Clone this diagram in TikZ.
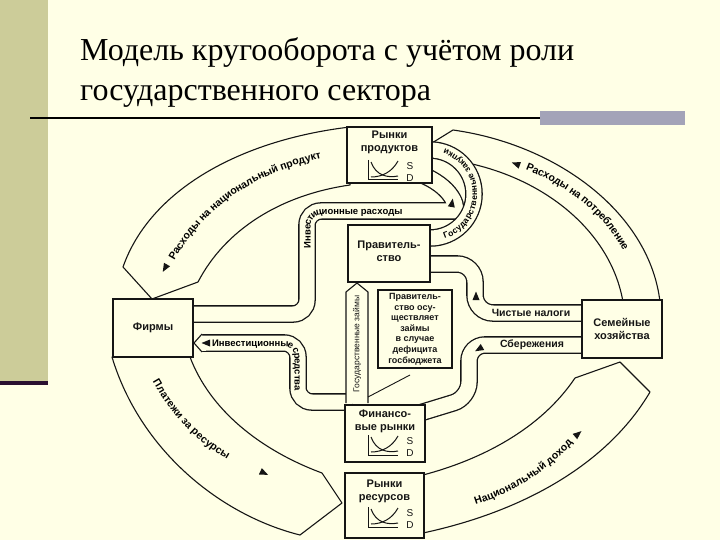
\documentclass[tikz,border=0pt]{standalone}
\usepackage{fontspec}
\setmainfont{Liberation Serif}
\newfontfamily\dfont{Liberation Sans}
\usetikzlibrary{decorations.text}
\definecolor{bg}{HTML}{FFFFE6}
\definecolor{olive}{HTML}{CCCC99}
\definecolor{barg}{HTML}{A3A3B8}
\definecolor{ink}{HTML}{151515}
\definecolor{darkline}{HTML}{2A1030}
\begin{document}
\begin{tikzpicture}[x=1pt,y=1pt,
  band/.style={fill=bg, draw=ink, line width=1.1pt, line join=round},
  tube/.style={draw=bg, line width=15pt, preaction={draw=ink, line width=17.6pt}},
  box/.style={draw=ink, fill=bg, line width=1.4pt, inner sep=0pt},
  lbl/.style={font=\dfont\bfseries\fontsize{11}{13}\selectfont, align=center, inner sep=0pt, text=ink},
  small/.style={font=\dfont\bfseries\fontsize{9}{10.6}\selectfont, align=center, inner sep=0pt, text=ink},
  sdl/.style={font=\dfont\fontsize{10}{10}\selectfont, inner sep=0pt, text=ink},
  tri/.pic={\fill[ink] (4.5,0) -- (-4,3.5) -- (-4,-3.5) -- cycle;},
  sd/.pic={\draw[ink, line width=1pt] (0,20) -- (0,0) -- (30,0);
    \draw[ink, line width=1pt] (3,18) .. controls (8,4) and (20,2) .. (30,4);
    \draw[ink, line width=1pt] (3,3) .. controls (14,3) and (24,8) .. (30,19);
    \node[sdl] at (42,14) {S}; \node[sdl] at (42,2) {D};}
]
\fill[bg] (0,0) rectangle (720,-540);
\useasboundingbox (0,0) rectangle (720,-540);
\fill[olive] (0,0) rectangle (48,-382);
\fill[darkline] (0,-381) rectangle (48,-385);
\draw[line width=2.5pt] (30,-118) -- (540,-118);
\fill[barg] (540,-111) rectangle (685,-125);
\node[anchor=base west, inner sep=0pt, font=\fontsize{32}{32}\selectfont] (t1) at (80,-61) {Модель кругооборота с учётом роли};
\node[anchor=base west, inner sep=0pt, font=\fontsize{32}{32}\selectfont] (t2) at (80,-101) {государственного сектора};

% outer bands
\draw[band] (123,-267) .. controls (150,-190) and (240,-140) .. (350,-127) -- (350,-185) .. controls (280,-195) and (225,-230) .. (198,-282) -- (152,-299) -- cycle;
\draw[band] (432,-143) -- (453,-130) .. controls (560,-145) and (650,-215) .. (660,-302) -- (623,-302) .. controls (610,-225) and (530,-165) .. (432,-158) -- cycle;
\draw[band] (112,-357) .. controls (140,-450) and (220,-515) .. (300,-535) -- (342,-503) -- (322,-473) .. controls (260,-450) and (210,-410) .. (190,-357) -- cycle;
\draw[band] (423,-533) .. controls (530,-510) and (610,-460) .. (650,-392) -- (620,-362) -- (575,-378) .. controls (540,-430) and (480,-460) .. (423,-475) -- cycle;

% outer labels
\path[decorate, decoration={text along path, text align=left, raise=-3.8pt,
  text={|\dfont\bfseries\fontsize{10.5}{11}\selectfont|Расходы на национальный продукт}}]
  (171,-259) .. controls (205,-198) and (265,-161) .. (348,-150);
\pic[rotate=-120] at (165,-268) {tri};
\path[decorate, decoration={text along path, text align=left, raise=-3.8pt,
  text={|\dfont\bfseries\fontsize{10.5}{11}\selectfont|Расходы на потребление}}]
  (527,-166) .. controls (582,-188) and (622,-225) .. (640,-280);
\pic[rotate=160] at (516,-164) {tri};
\path[decorate, decoration={text along path, text align=left, raise=-3.8pt,
  text={|\dfont\bfseries\fontsize{10.5}{11}\selectfont|Платежи за ресурсы}}]
  (156,-380) .. controls (180,-422) and (212,-452) .. (256,-469);
\pic[rotate=-25] at (264,-473) {tri};
\path[decorate, decoration={text along path, text align=right, raise=-3.8pt,
  text={|\dfont\bfseries\fontsize{10.5}{11}\selectfont|Национальный доход}}]
  (452,-507) .. controls (500,-497) and (542,-472) .. (570,-440);
\pic[rotate=40] at (578,-434) {tri};

% inner flows
\draw[tube, rounded corners=14pt] (190,-314) -- (307,-314) -- (307,-211) -- (440,-211) .. controls (458,-211) and (456,-190) .. (425,-176);
\draw[tube] (425,-238) -- (430,-238) arc[start angle=-90, end angle=90, radius=44] -- (425,-150);
\draw[tube, rounded corners=18pt] (425,-264) -- (475,-264) -- (475,-313) -- (590,-313);
\draw[tube, rounded corners=16pt] (590,-345) -- (469,-345) -- (469,-398) -- (420,-413);
\draw[tube, rounded corners=14pt] (202,-343) -- (298,-343) -- (298,-402) -- (352,-402);
\draw[band] (202,-334) -- (194,-343) -- (202,-352);
\fill[bg] (202,-335.5) rectangle (206,-350.5);
\draw[band] (346,-403) -- (346,-292) -- (357,-283) -- (368,-292) -- (368,-403);

% inner labels
\path[decorate, decoration={text along path, text align=left, raise=-3.5pt,
  text={|\dfont\bfseries\fontsize{9.5}{10}\selectfont|Инвестиционные расходы}}]
  (307,-248) -- (307,-226) arc[start angle=180, end angle=90, radius=15] -- (445,-211);
\pic[rotate=80] at (452,-203) {tri};
\path[decorate, decoration={text along path, text align=center, raise=-3.2pt,
  text={|\dfont\bfseries\fontsize{8.5}{10}\selectfont|Государственные закупки}}]
  (430,-238) arc[start angle=-90, end angle=90, radius=44];
\node[lbl, font=\dfont\bfseries\fontsize{10.5}{10}\selectfont] (tax) at (531,-313) {Чистые налоги};
\pic[rotate=90] at (476,-296) {tri};
\node[lbl, font=\dfont\bfseries\fontsize{10.5}{10}\selectfont] (sav) at (532,-345) {Сбережения};
\pic[rotate=-150] at (479,-349) {tri};
\path[decorate, decoration={text along path, text align=left, raise=-3.5pt,
  text={|\dfont\bfseries\fontsize{9.5}{10}\selectfont|Инвестиционные средства}}]
  (212,-343) -- (284,-343) arc[start angle=90, end angle=0, radius=14] -- (298,-402);
\pic[rotate=180] at (206,-343) {tri};
\node[rotate=90, inner sep=0pt, font=\dfont\fontsize{8.5}{9}\selectfont, text=ink] (loans) at (357,-344) {Государственные займы};

% boxes
\node[box, minimum width=85pt, minimum height=56pt] (prod) at (389.5,-155) {};
\node[lbl] at (389.5,-142) {Рынки\\продуктов};
\pic at (368,-180) {sd};
\node[box, minimum width=82pt, minimum height=57pt] (gov) at (389,-253.5) {};
\node[lbl] at (389,-251) {Правитель-\\ство};
\node[box, minimum width=80pt, minimum height=58pt] (firms) at (153,-328) {};
\node[lbl] at (153,-328) {Фирмы};
\node[box, minimum width=80pt, minimum height=58pt] (house) at (622,-329) {};
\node[lbl] at (622,-329) {Семейные\\хозяйства};
\node[box, minimum width=80pt, minimum height=57pt] (fin) at (385,-433.5) {};
\node[lbl] at (385,-421) {Финансо-\\вые рынки};
\pic at (368,-455) {sd};
\node[box, minimum width=79pt, minimum height=65pt] (res) at (384.5,-505.5) {};
\node[lbl] at (384.5,-491) {Рынки\\ресурсов};
\pic at (368,-527) {sd};
\node[box, line width=1.1pt, minimum width=74pt, minimum height=78pt] (note) at (415,-329) {};
\node[small] at (415,-329) {Правитель-\\ство осу-\\ществляет\\займы\\в случае\\дефицита\\госбюджета};
\draw[ink, line width=0.9pt] (368,-397) -- (410,-375);
\end{tikzpicture}
\end{document}
